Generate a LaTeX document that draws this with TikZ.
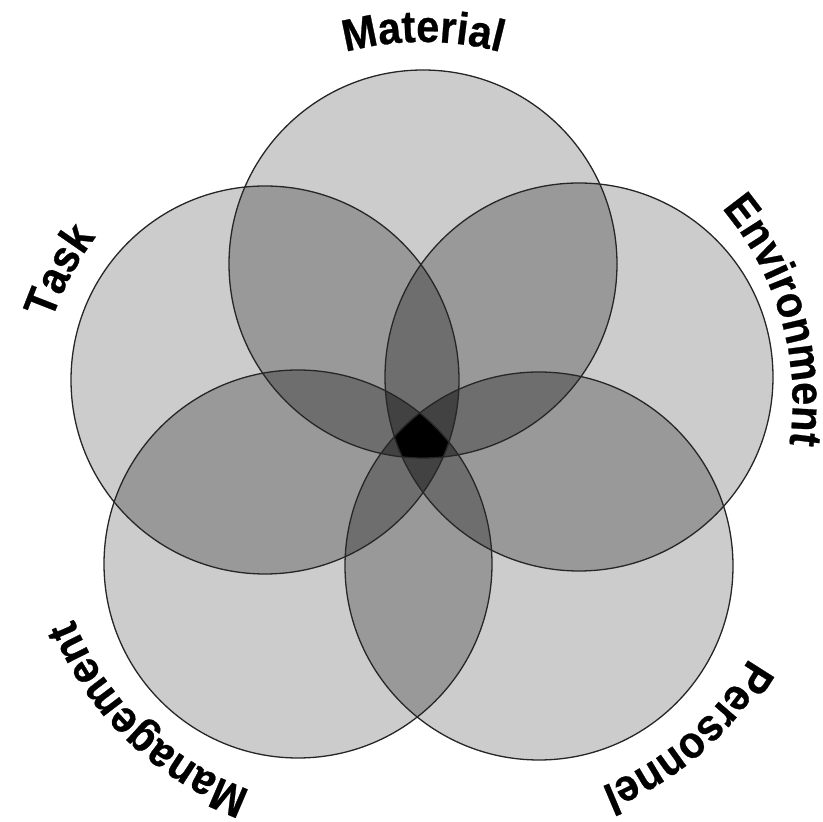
\documentclass[tikz,border=0pt]{standalone}
\usepackage{fontspec}
\usetikzlibrary{calc,decorations.text}
\newfontfamily\labelfamily[FakeStretch=0.92,FakeBold=0.6]{Liberation Sans}
\newcommand{\labelstyle}{\labelfamily\bfseries\fontsize{45}{45}\selectfont}
\newcommand{\discradius}{194}

\begin{document}
\begin{tikzpicture}[x=1pt,y=1pt,
	level1/.style={ fill=black!20 },
	level2/.style={ fill=black!40 },
	level3/.style={ fill=black!57 },
	level4/.style={ fill=black!74 },
	level5/.style={ fill=black },
	rim/.style={ draw=black!85, line width=1.3pt },
	caption/.style={ decorate, decoration={ text along path, text align=center, text={|\labelstyle|#1} } }
]

\useasboundingbox (0,0) rectangle (823,822);

\coordinate (material) at (423,558);
\coordinate (task) at (265,442);
\coordinate (environment) at (579,445);
\coordinate (management) at (298,258);
\coordinate (personnel) at (539,256);

\foreach \p in {material,task,environment,management,personnel} \fill[level1] (\p) circle[radius=\discradius];

\foreach \p/\q in {material/task,material/environment,material/management,material/personnel,task/environment,task/management,task/personnel,environment/management,environment/personnel,management/personnel} {
	\begin{scope}
	\clip (\p) circle[radius=\discradius];
	\fill[level2] (\q) circle[radius=\discradius];
	\end{scope}
}

\foreach \p/\q/\s in {material/task/environment,material/task/management,material/task/personnel,material/environment/management,material/environment/personnel,material/management/personnel,task/environment/management,task/environment/personnel,task/management/personnel,environment/management/personnel} {
	\begin{scope}
	\clip (\p) circle[radius=\discradius];
	\clip (\q) circle[radius=\discradius];
	\fill[level3] (\s) circle[radius=\discradius];
	\end{scope}
}

\foreach \p/\q/\s/\t in {material/task/environment/management,material/task/environment/personnel,material/task/management/personnel,material/environment/management/personnel,task/environment/management/personnel} {
	\begin{scope}
	\clip (\p) circle[radius=\discradius];
	\clip (\q) circle[radius=\discradius];
	\clip (\s) circle[radius=\discradius];
	\fill[level4] (\t) circle[radius=\discradius];
	\end{scope}
}

\begin{scope}
\clip (material) circle[radius=\discradius];
\clip (task) circle[radius=\discradius];
\clip (environment) circle[radius=\discradius];
\clip (management) circle[radius=\discradius];
\fill[level5] (personnel) circle[radius=\discradius];
\end{scope}

\foreach \p in {material,task,environment,management,personnel} \draw[rim] (\p) circle[radius=\discradius];

\path[caption=Material] ($(material)+(90:-78)+(150:300)$) arc[start angle=150, end angle=30, radius=300];
\path[caption=Task] ($(task)+(152:-80)+(212:300)$) arc[start angle=212, end angle=92, radius=300];
\path[caption=Environment] ($(environment)+(16:-90)+(76:300)$) arc[start angle=76, end angle=-44, radius=300];
\path[caption=Personnel] ($(personnel)+(-49:-76)+(11:300)$) arc[start angle=11, end angle=-109, radius=300];
\path[caption=Management] ($(management)+(-134:-78)+(-74:300)$) arc[start angle=-74, end angle=-194, radius=300];

\end{tikzpicture}
\end{document}
